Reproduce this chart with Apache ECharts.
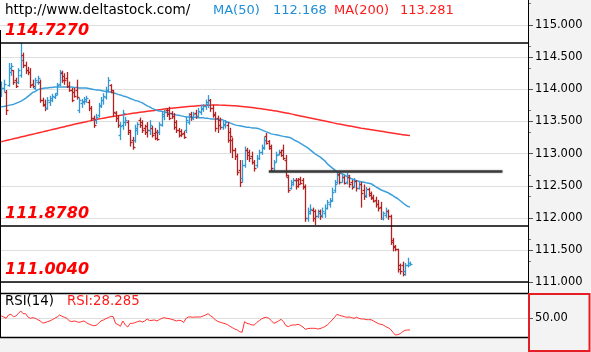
<!DOCTYPE html>
<html>
<head>
<meta charset="utf-8">
<script src="https://cdn.jsdelivr.net/npm/echarts@6/dist/echarts.min.js"></script>
<style>
html,body{margin:0;padding:0;background:#fff;}
#chart{width:591px;height:352px;}
</style>
</head>
<body>
<div id="chart"></div>
<script>
// ---- data ----
const slotCount = 217; // x slots across the plot (bars fill the first 169)
const opens = [113.91,114.02,113.96,114.07,114.27,114.30,114.15,114.12,114.22,114.53,
114.38,114.30,114.27,114.08,114.02,114.12,114.12,113.84,113.77,113.71,
113.80,113.84,113.88,113.94,114.08,114.25,114.21,114.18,114.05,113.99,
113.96,113.99,113.68,113.79,113.80,113.82,113.80,113.71,113.56,113.52,
113.60,113.74,113.84,113.88,113.99,114.07,113.96,113.63,113.56,113.29,
113.45,113.49,113.49,113.34,113.21,113.21,113.37,113.52,113.49,113.40,
113.43,113.37,113.40,113.32,113.34,113.34,113.45,113.59,113.68,113.68,
113.63,113.59,113.49,113.37,113.35,113.32,113.37,113.49,113.62,113.56,
113.63,113.59,113.65,113.70,113.74,113.77,113.84,113.71,113.62,113.56,
113.52,113.42,113.45,113.45,113.34,113.21,113.06,112.97,112.75,112.62,
112.83,113.06,113.03,112.97,112.87,112.83,112.93,113.03,113.09,113.28,
113.20,113.12,112.75,112.87,113.00,113.03,113.06,112.90,112.64,112.47,
112.53,112.59,112.59,112.61,112.59,112.50,112.00,112.08,112.13,112.10,
112.03,112.10,112.05,112.08,112.16,112.22,112.28,112.44,112.56,112.69,
112.56,112.64,112.56,112.64,112.56,112.50,112.58,112.47,112.53,112.44,
112.36,112.45,112.38,112.33,112.28,112.22,112.17,112.00,112.05,112.10,
112.03,111.66,111.57,111.51,111.26,111.27,111.17,111.26,111.27];
const closes = [114.02,114.08,113.68,114.33,114.36,114.12,114.05,114.30,114.46,114.38,
114.30,114.27,114.07,114.05,114.15,114.18,113.84,113.76,113.71,113.84,
113.87,113.90,113.91,114.07,114.27,114.15,114.15,114.05,113.99,113.84,
113.90,113.88,113.84,113.82,113.85,113.87,113.71,113.56,113.45,113.57,
113.76,113.84,113.90,113.99,114.15,113.99,113.65,113.56,113.45,113.43,
113.63,113.52,113.37,113.18,113.11,113.40,113.46,113.45,113.37,113.34,
113.37,113.45,113.29,113.25,113.23,113.46,113.62,113.65,113.62,113.56,
113.59,113.42,113.37,113.29,113.31,113.26,113.52,113.59,113.56,113.62,
113.59,113.66,113.71,113.74,113.80,113.84,113.71,113.60,113.40,113.45,
113.42,113.46,113.49,113.21,113.28,113.06,112.97,112.72,112.56,112.83,
113.06,112.98,112.93,112.87,112.78,112.93,113.03,113.11,113.21,113.17,
113.09,112.78,112.87,112.98,113.03,112.98,112.93,112.67,112.44,112.56,
112.59,112.50,112.53,112.55,112.48,112.00,112.10,112.14,112.00,112.03,
112.08,112.03,112.11,112.16,112.24,112.27,112.41,112.53,112.67,112.56,
112.64,112.55,112.66,112.52,112.48,112.58,112.47,112.53,112.38,112.34,
112.45,112.36,112.31,112.27,112.21,112.16,112.00,112.07,112.11,112.03,
111.63,111.54,111.51,111.20,111.17,111.13,111.26,111.30,111.288];
const highs = [114.12,114.15,113.99,114.41,114.41,114.30,114.18,114.33,114.72,114.57,
114.43,114.35,114.33,114.15,114.18,114.21,114.15,113.87,113.84,113.88,
113.90,113.93,113.94,114.10,114.30,114.29,114.25,114.27,114.12,114.02,
114.02,114.15,113.87,113.85,113.88,113.90,113.84,113.74,113.59,113.62,
113.79,113.88,113.94,114.04,114.19,114.08,113.99,113.66,113.60,113.49,
113.68,113.57,113.52,113.37,113.26,113.45,113.49,113.56,113.52,113.45,
113.49,113.52,113.43,113.40,113.37,113.49,113.65,113.68,113.71,113.73,
113.66,113.63,113.52,113.40,113.38,113.35,113.57,113.63,113.65,113.65,
113.68,113.71,113.76,113.77,113.84,113.91,113.85,113.76,113.65,113.59,
113.56,113.51,113.52,113.49,113.40,113.25,113.09,113.00,112.90,112.90,
113.11,113.09,113.06,113.03,112.90,112.98,113.06,113.14,113.26,113.32,
113.21,113.14,112.90,113.03,113.06,113.06,113.14,112.98,112.67,112.59,
112.62,112.62,112.62,112.64,112.62,112.52,112.16,112.21,112.16,112.13,
112.13,112.13,112.16,112.21,112.28,112.31,112.47,112.59,112.72,112.70,
112.67,112.66,112.70,112.67,112.59,112.62,112.59,112.56,112.56,112.52,
112.48,112.47,112.41,112.36,112.33,112.28,112.25,112.10,112.16,112.13,
112.05,111.69,111.58,111.52,111.29,111.32,111.30,111.38,111.32];
const lows = [113.88,113.96,113.60,114.04,114.21,114.07,114.02,114.08,114.18,114.33,
114.24,114.22,114.02,114.02,113.99,114.07,113.79,113.73,113.66,113.68,
113.74,113.80,113.85,113.91,114.05,114.10,114.07,114.02,113.96,113.80,
113.87,113.84,113.63,113.71,113.76,113.79,113.66,113.51,113.40,113.46,
113.56,113.71,113.76,113.84,113.96,113.94,113.57,113.49,113.40,113.21,
113.37,113.43,113.29,113.11,113.06,113.17,113.29,113.40,113.32,113.29,
113.25,113.29,113.25,113.21,113.20,113.29,113.42,113.52,113.57,113.52,
113.54,113.37,113.32,113.25,113.26,113.23,113.32,113.45,113.51,113.52,
113.54,113.56,113.60,113.65,113.68,113.71,113.65,113.56,113.34,113.32,
113.37,113.37,113.39,113.17,113.01,112.93,112.90,112.66,112.48,112.55,
112.78,112.90,112.87,112.83,112.72,112.78,112.90,112.98,113.06,113.14,
113.06,112.72,112.72,112.87,112.97,112.95,112.90,112.64,112.39,112.44,
112.50,112.44,112.47,112.52,112.44,111.94,111.94,112.05,111.94,111.89,
112.00,111.97,112.00,112.00,112.13,112.16,112.25,112.39,112.53,112.52,
112.55,112.52,112.52,112.47,112.44,112.47,112.41,112.44,112.16,112.28,
112.31,112.33,112.28,112.24,112.16,112.10,111.97,111.96,112.00,111.97,
111.58,111.48,111.48,111.15,111.12,111.09,111.10,111.23,111.26];
const ma50 = [113.727,113.734,113.742,113.750,113.758,113.765,113.781,113.796,113.812,113.835,
113.858,113.889,113.921,113.952,113.967,113.991,114.006,114.014,114.022,114.022,
114.029,114.029,114.037,114.037,114.037,114.037,114.037,114.037,114.037,114.037,
114.029,114.029,114.022,114.022,114.022,114.022,114.014,114.006,113.998,113.991,
113.991,113.983,113.975,113.967,113.959,113.959,113.944,113.936,113.921,113.913,
113.897,113.889,113.874,113.858,113.843,113.827,113.820,113.804,113.789,113.765,
113.742,113.727,113.703,113.688,113.672,113.664,113.657,113.649,113.641,113.626,
113.618,113.610,113.602,113.595,113.587,113.579,113.571,113.571,113.564,113.564,
113.564,113.556,113.556,113.556,113.548,113.548,113.540,113.540,113.533,113.533,
113.525,113.525,113.509,113.494,113.478,113.463,113.447,113.439,113.432,113.424,
113.416,113.408,113.408,113.400,113.400,113.393,113.385,113.369,113.354,113.338,
113.323,113.307,113.299,113.292,113.284,113.276,113.268,113.261,113.253,113.245,
113.222,113.199,113.183,113.160,113.136,113.113,113.090,113.059,113.028,112.997,
112.974,112.950,112.919,112.888,112.841,112.810,112.779,112.748,112.717,112.702,
112.686,112.671,112.647,112.624,112.608,112.593,112.577,112.570,112.562,112.554,
112.546,112.539,112.531,112.508,112.484,112.461,112.438,112.422,112.407,112.391,
112.368,112.345,112.321,112.298,112.267,112.236,112.205,112.181,112.168];
const ma200 = [113.185,113.194,113.203,113.212,113.221,113.230,113.239,113.248,113.257,113.266,
113.275,113.284,113.293,113.302,113.311,113.320,113.329,113.338,113.347,113.356,
113.365,113.374,113.383,113.392,113.401,113.410,113.419,113.428,113.437,113.446,
113.455,113.464,113.473,113.481,113.489,113.497,113.505,113.513,113.521,113.529,
113.537,113.544,113.551,113.558,113.565,113.572,113.578,113.584,113.590,113.596,
113.602,113.608,113.614,113.620,113.626,113.632,113.637,113.642,113.647,113.652,
113.657,113.662,113.667,113.672,113.677,113.682,113.687,113.692,113.697,113.701,
113.705,113.709,113.713,113.717,113.721,113.725,113.729,113.732,113.735,113.738,
113.741,113.744,113.747,113.749,113.751,113.753,113.754,113.755,113.755,113.755,
113.754,113.753,113.752,113.750,113.748,113.746,113.743,113.740,113.737,113.734,
113.730,113.726,113.722,113.717,113.712,113.707,113.702,113.697,113.691,113.685,
113.679,113.673,113.667,113.661,113.654,113.647,113.640,113.633,113.626,113.618,
113.610,113.602,113.594,113.586,113.578,113.570,113.562,113.554,113.546,113.538,
113.530,113.522,113.514,113.506,113.498,113.490,113.482,113.474,113.466,113.459,
113.452,113.445,113.438,113.431,113.424,113.417,113.410,113.403,113.396,113.390,
113.384,113.378,113.372,113.366,113.360,113.354,113.348,113.342,113.336,113.330,
113.324,113.318,113.312,113.306,113.300,113.295,113.290,113.285,113.281];
const rsi = [54.3,52.5,50.0,56.2,57.4,53.1,54.3,58.6,63.6,58.6,
58.6,52.5,50.0,51.2,50.0,47.5,45.1,41.4,42.0,43.8,
45.1,47.5,50.0,52.5,56.2,53.7,51.9,50.0,45.1,43.8,
45.1,43.8,42.6,43.8,45.1,42.0,39.5,37.7,36.4,37.0,
40.7,45.1,46.9,49.4,51.2,53.7,53.1,40.7,38.3,35.2,
45.1,37.7,34.0,40.7,40.7,42.0,43.8,45.1,43.2,45.1,
48.8,45.7,46.3,46.9,45.1,47.5,50.0,51.2,50.0,49.4,
48.1,46.9,45.1,46.3,45.7,42.6,50.0,52.5,52.5,51.9,
52.5,52.5,52.5,54.3,56.2,58.6,54.9,51.9,46.9,44.4,
42.6,41.4,40.1,38.3,35.2,32.7,30.2,28.4,25.3,24.1,
43.8,40.7,39.5,37.7,37.7,42.0,45.7,48.8,51.2,51.9,
50.0,45.7,40.7,42.6,45.1,48.1,43.8,36.4,34.6,37.0,
37.7,37.7,38.9,37.0,34.0,29.6,30.9,31.5,31.5,31.5,
30.2,30.9,32.7,34.6,37.7,42.0,46.9,51.9,57.4,55.6,
54.3,53.1,51.9,52.5,51.2,50.0,51.9,50.0,48.8,48.8,
47.5,47.5,47.5,45.1,42.6,40.1,38.9,37.7,34.6,32.7,
29.6,24.1,19.1,19.8,21.6,25.3,27.8,28.4,28.285];
const levels = [114.727, 111.878, 111.004];           // horizontal support/resistance levels
const resistance = { value: 112.72, from: 110, to: 206 }; // short horizontal line (slot indices)
const priceTicks = [111, 111.5, 112, 112.5, 113, 113.5, 114, 114.5, 115];
const rsiTicks = [50];
const siteText = 'http://www.deltastock.com/';

// ---- chart ----
const BLUE = '#3399d4', RED = '#b22222';
const categories = Array.from({ length: slotCount }, (_, i) => String(i));
const ohlc = opens.map((o, i) => [i, o, closes[i], lows[i], highs[i]]);
const lastClose = closes[closes.length - 1];
const FONT = '"DejaVu Sans", Verdana, sans-serif';
const GRIDC = '#dedede';

const chart = echarts.init(document.getElementById('chart'), null, { renderer: 'canvas' });

const option = {
  animation: false,
  backgroundColor: '#ffffff',
  grid: [
    { left: 0, right: 63, top: 0, height: 293 },
    { left: 0, right: 63, top: 293, height: 44 }
  ],
  xAxis: [
    { type: 'category', gridIndex: 0, data: categories, boundaryGap: true, show: false },
    { type: 'category', gridIndex: 1, data: categories, boundaryGap: true, show: false }
  ],
  yAxis: [
    {
      type: 'value', gridIndex: 0, position: 'right', min: 110.832, max: 115.389,
      axisLine: { show: true, lineStyle: { color: '#000', width: 1 } },
      axisTick: { show: true, length: 5, lineStyle: { color: '#555' }, customValues: priceTicks },
      minorTick: { show: true, splitNumber: 3, length: 3, lineStyle: { color: '#777' } },
      axisLabel: { customValues: priceTicks, margin: 7, color: '#000', fontSize: 11.5, fontFamily: FONT,
        formatter: v => Number(v).toFixed(3) },
      splitLine: { show: false }
    },
    {
      type: 'value', gridIndex: 1, position: 'right', min: 15.4, max: 96.9,
      axisLine: { show: true, lineStyle: { color: '#000' } },
      axisTick: { show: true, length: 5, lineStyle: { color: '#555' }, customValues: rsiTicks },
      axisLabel: { customValues: rsiTicks, margin: 7, color: '#000', fontSize: 11.5, fontFamily: FONT,
        formatter: v => Number(v).toFixed(2) },
      splitLine: { show: false }
    }
  ],
  series: [
    {
      name: 'MA200', type: 'line', xAxisIndex: 0, yAxisIndex: 0, data: ma200,
      symbol: 'none', lineStyle: { color: '#ff2a2a', width: 1.5 }, z: 3,
      markLine: {
        silent: true, symbol: 'none', animation: false, z: 1,
        lineStyle: { color: GRIDC, width: 1, type: 'solid' },
        label: { show: false },
        data: priceTicks.map(v => ({ yAxis: v }))
      }
    },
    {
      name: 'MA50', type: 'line', xAxisIndex: 0, yAxisIndex: 0, data: ma50,
      symbol: 'none', lineStyle: { color: '#3c9fdc', width: 1.5 }, z: 3
    },
    {
      name: 'OHLC', type: 'custom', xAxisIndex: 0, yAxisIndex: 0, data: ohlc,
      encode: { x: 0, y: [1, 2, 3, 4] }, z: 4,
      renderItem: function (params, api) {
        const idx = api.value(0);
        const o = api.value(1), c = api.value(2), l = api.value(3), h = api.value(4);
        const pO = api.coord([idx, o]);
        const pC = api.coord([idx, c]);
        const yL = api.coord([idx, l])[1];
        const yH = api.coord([idx, h])[1];
        const x = Math.round(pO[0]) + 0.5;
        const color = c >= o ? BLUE : RED;
        const style = { stroke: color, lineWidth: 1.3 };
        const yo = Math.round(pO[1]) + 0.5, yc = Math.round(pC[1]) + 0.5;
        return {
          type: 'group',
          children: [
            { type: 'line', shape: { x1: x, y1: yH, x2: x, y2: yL }, style: style },
            { type: 'line', shape: { x1: x - 2, y1: yo, x2: x, y2: yo }, style: style },
            { type: 'line', shape: { x1: x, y1: yc, x2: x + 2, y2: yc }, style: style }
          ]
        };
      }
    },
    {
      // level lines, resistance line and the last-price tag
      type: 'line', xAxisIndex: 0, yAxisIndex: 0, data: [], silent: true, z: 5,
      markLine: {
        silent: true, symbol: 'none', animation: false,
        data: levels.map(v => ({
          yAxis: v,
          lineStyle: { color: '#000', width: 1.5, type: 'solid' },
          label: {
            show: true, position: 'insideStartTop', formatter: v.toFixed(4), distance: [5, 4],
            color: '#ff0000', fontSize: 16, fontWeight: 'bold', fontStyle: 'italic', fontFamily: FONT
          }
        })).concat([
          [
            { coord: [resistance.from, resistance.value], lineStyle: { color: '#3a3a3a', width: 2.5, type: 'solid', shadowColor: 'rgba(0,0,0,0.35)', shadowBlur: 2 }, label: { show: false } },
            { coord: [resistance.to, resistance.value] }
          ],
          {
            yAxis: lastClose,
            lineStyle: { opacity: 0, width: 0 },
            label: {
              show: true, position: 'end', distance: 1, offset: [0, 8],
              formatter: lastClose.toFixed(3), color: '#000', fontSize: 11.5, fontFamily: FONT,
              backgroundColor: '#87cefa', borderColor: '#2e8fd0', borderWidth: 1, padding: [2, 4, 1, 4]
            }
          }
        ])
      }
    },
    {
      name: 'RSI', type: 'line', xAxisIndex: 1, yAxisIndex: 1, data: rsi,
      symbol: 'none', lineStyle: { color: '#ff3030', width: 1 }, z: 3,
      markLine: {
        silent: true, symbol: 'none', animation: false, z: 1,
        lineStyle: { color: GRIDC, width: 1, type: 'solid' },
        label: { show: false },
        data: rsiTicks.map(v => ({ yAxis: v }))
      }
    }
  ],
  graphic: [
    { type: 'rect', z: -10, shape: { x: 529, y: 0, width: 62, height: 352 }, style: { fill: '#f3f3f3' } },
    { type: 'rect', z: -10, shape: { x: 0, y: 338, width: 529, height: 14 }, style: { fill: '#f3f3f3' } },
    { type: 'line', z: 50, shape: { x1: 0, y1: 293.5, x2: 528, y2: 293.5 }, style: { stroke: '#000', lineWidth: 1.5 } },
    { type: 'line', z: 50, shape: { x1: 0, y1: 337.5, x2: 528, y2: 337.5 }, style: { stroke: '#000', lineWidth: 1.5 } },
    { type: 'line', z: 50, shape: { x1: 0.5, y1: 30, x2: 0.5, y2: 337 }, style: { stroke: '#000', lineWidth: 1 } },
    { type: 'line', z: 50, shape: { x1: 528.5, y1: 0, x2: 528.5, y2: 352 }, style: { stroke: '#000', lineWidth: 1 } },
    { type: 'rect', z: 60, shape: { x: 529, y: 294, width: 60.5, height: 57 }, style: { fill: 'none', stroke: '#e31e24', lineWidth: 2 } },
    { type: 'text', z: 60, x: 5, y: 10.5, style: { text: siteText, font: '13.5px ' + FONT, fill: '#000', verticalAlign: 'middle' } },
    { type: 'text', z: 60, x: 213, y: 10.5, style: { text: 'MA(50)', font: '13px ' + FONT, fill: '#1f8fd6', verticalAlign: 'middle' } },
    { type: 'text', z: 60, x: 273, y: 10.5, style: { text: ma50[ma50.length - 1].toFixed(3), font: '13px ' + FONT, fill: '#1f8fd6', verticalAlign: 'middle' } },
    { type: 'text', z: 60, x: 334, y: 10.5, style: { text: 'MA(200)', font: '13px ' + FONT, fill: '#ff1a1a', verticalAlign: 'middle' } },
    { type: 'text', z: 60, x: 400, y: 10.5, style: { text: ma200[ma200.length - 1].toFixed(3), font: '13px ' + FONT, fill: '#ff1a1a', verticalAlign: 'middle' } },
    { type: 'text', z: 60, x: 5, y: 302, style: { text: 'RSI(14)', font: '13.3px ' + FONT, fill: '#000', verticalAlign: 'middle' } },
    { type: 'text', z: 60, x: 67, y: 302, style: { text: 'RSI:' + rsi[rsi.length - 1].toFixed(3), font: '13.3px ' + FONT, fill: '#ff1a1a', verticalAlign: 'middle' } }
  ]
};
chart.setOption(option);
</script>
</body>
</html>
